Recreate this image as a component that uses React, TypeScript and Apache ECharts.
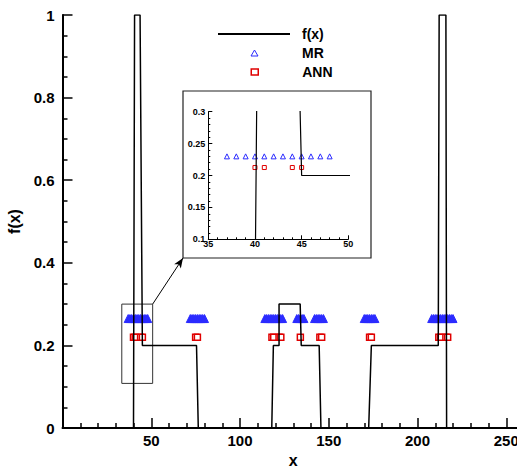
import React, { useEffect, useRef } from 'react';
import * as echarts from 'echarts';

// f(x) polyline (x, y)
const fxX = [0, 40, 40.6, 43.7, 45, 75.5, 76.5, 117.9, 118.8, 122, 122, 133.9, 134.5, 144.6, 145.6, 172.5, 174, 211.7, 212.2, 216, 216.4, 260];
const fxY = [0, 0, 1, 1, 0.2, 0.2, 0, 0, 0.2, 0.2, 0.3, 0.3, 0.2, 0.2, 0, 0, 0.2, 0.2, 1, 1, 0, 0];

// MR points (main plot)
const mrX = [
  37, 38, 39, 40, 41, 42, 43, 44, 45, 46, 47, 48,
  72, 73, 74, 75, 76, 77, 78, 79, 80,
  114, 115, 116, 117, 118, 119, 120, 121, 122, 123, 124,
  132, 133, 134, 135, 136,
  142, 143, 144, 145, 146, 147,
  170, 171, 172, 173, 174, 175, 176,
  208, 209, 210, 211, 212, 213, 214, 215, 216, 217, 218, 219, 220,
];
const MR_Y = 0.265;

// ANN points (main plot)
const annX = [40, 41, 44, 45, 75, 76, 118, 119, 122, 123, 134, 145, 146, 173, 174, 212, 213, 216, 217];
const ANN_Y = 0.22;

// Inset points
const insetMrX = [37, 38, 39, 40, 41, 42, 43, 44, 45, 46, 47, 48];
const INSET_MR_Y = 0.23;
const insetAnnX = [40, 41, 44, 45];
const INSET_ANN_Y = 0.2125;

// zoom window annotation (data coords)
const ZOOM_X = [33.4, 50.8];
const ZOOM_Y = [0.108, 0.3];

const FONT = "'Liberation Sans', Arial, Helvetica, sans-serif";
const BLUE = '#2b2bff';
const RED = '#e00000';

export default function App() {
  const ref = useRef<HTMLDivElement>(null);
  useEffect(() => {
    document.body.style.overflow = 'hidden';
    document.documentElement.style.overflow = 'hidden';
    const chart = echarts.init(ref.current!, null, { renderer: 'svg' });
    const fxData = fxX.map((x, i) => [x, fxY[i]]);
    const bigLabel = { color: '#000', fontSize: 15, fontWeight: 'bold', fontFamily: FONT };
    const smallLabel = { color: '#000', fontSize: 9, fontWeight: 'bold', fontFamily: FONT };
    const legendText = { color: '#000', fontSize: 14, fontWeight: 'bold', fontFamily: FONT };
    const option: any = {
      animation: false,
      backgroundColor: '#fff',
      grid: [
        { left: 62.5, top: 15, width: 461.5, height: 413, containLabel: false, outerBoundsMode: 'none' },
        { left: 208.3, top: 111.7, width: 140, height: 127.6, containLabel: false, outerBoundsMode: 'none' },
      ],
      legend: [
        {
          orient: 'vertical', left: 218, top: 27, padding: 0,
          itemWidth: 72, itemHeight: 14, selectedMode: false,
          textStyle: { ...legendText, padding: [0, 0, 0, 7] },
          data: [{ name: 'f(x)', icon: 'path://M0,6 L72,6 L72,8 L0,8 Z M0,0 L0.01,0 M0,14 L0.01,14', itemStyle: { color: '#000', borderWidth: 0 } }],
        },
        {
          orient: 'vertical', left: 250.5, top: 46, padding: 0,
          itemWidth: 7, itemHeight: 6, selectedMode: false,
          textStyle: { ...legendText, padding: [0, 0, 0, 39] },
          data: [{ name: 'MR', icon: 'triangle', itemStyle: { color: '#fff', borderColor: BLUE, borderWidth: 1, opacity: 1 } }],
        },
        {
          orient: 'vertical', left: 250.5, top: 65, padding: 0,
          itemWidth: 7, itemHeight: 6, selectedMode: false,
          textStyle: { ...legendText, padding: [0, 0, 0, 39] },
          data: [{ name: 'ANN', icon: 'rect', itemStyle: { color: '#fff', borderColor: RED, borderWidth: 1.5, opacity: 1 } }],
        },
      ],
      xAxis: [
        {
          gridIndex: 0, type: 'value', min: 0, max: 260, interval: 50,
          axisLine: { onZero: false, lineStyle: { color: '#000', width: 2 } },
          axisTick: { inside: true, length: 10, lineStyle: { color: '#000', width: 1.5 } },
          minorTick: { show: true, splitNumber: 5, length: 5, lineStyle: { color: '#000', width: 1.5 } },
          splitLine: { show: false },
          axisLabel: { ...bigLabel, margin: 5, formatter: (v: number) => (v !== 0 && v % 50 === 0 ? String(v) : '') },
          name: 'x', nameLocation: 'middle', nameGap: 16,
          nameTextStyle: { color: '#000', fontSize: 16, fontWeight: 'bold', fontFamily: FONT },
        },
        {
          gridIndex: 1, type: 'value', min: 35, max: 50, interval: 5,
          axisLine: { onZero: false, lineStyle: { color: '#000', width: 1 } },
          axisTick: { inside: true, length: 4, lineStyle: { color: '#000', width: 1 } },
          minorTick: { show: true, splitNumber: 5, length: 2, lineStyle: { color: '#000', width: 1 } },
          splitLine: { show: false },
          axisLabel: { ...smallLabel, margin: 0 },
        },
      ],
      yAxis: [
        {
          gridIndex: 0, type: 'value', min: 0, max: 1, interval: 0.2,
          axisLine: { onZero: false, lineStyle: { color: '#000', width: 2 } },
          axisTick: { inside: true, length: 10, lineStyle: { color: '#000', width: 1.5 } },
          minorTick: { show: true, splitNumber: 4, length: 5, lineStyle: { color: '#000', width: 1.5 } },
          splitLine: { show: false },
          axisLabel: { ...bigLabel, margin: 8 },
          name: 'f(x)', nameLocation: 'middle', nameGap: 37, nameRotate: 90,
          nameTextStyle: { color: '#000', fontSize: 16, fontWeight: 'bold', fontFamily: FONT },
        },
        {
          gridIndex: 1, type: 'value', min: 0.1, max: 0.3, interval: 0.05,
          axisLine: { onZero: false, lineStyle: { color: '#000', width: 1 } },
          axisTick: { inside: true, length: 4, lineStyle: { color: '#000', width: 1 } },
          minorTick: { show: true, splitNumber: 5, length: 2, lineStyle: { color: '#000', width: 1 } },
          splitLine: { show: false },
          axisLabel: { ...smallLabel, margin: 3 },
        },
      ],
      graphic: {
        elements: [
          {
            type: 'rect', z: 0,
            shape: { x: 183, y: 91, width: 188, height: 167 },
            style: { fill: 'rgba(0,0,0,0)', stroke: '#222', lineWidth: 1.2 },
            silent: true,
          },
        ],
      },
      series: [
        {
          name: 'MR', type: 'scatter', xAxisIndex: 0, yAxisIndex: 0,
          data: mrX.map((x) => [x, MR_Y]),
          symbol: 'triangle', symbolSize: 8,
          itemStyle: { color: BLUE, borderColor: BLUE, borderWidth: 1, opacity: 1 },
          z: 2,
        },
        {
          name: 'ANN', type: 'scatter', xAxisIndex: 0, yAxisIndex: 0,
          data: annX.map((x) => [x, ANN_Y]),
          symbol: 'rect', symbolSize: 6,
          itemStyle: { color: '#fff', borderColor: RED, borderWidth: 1.5, opacity: 1 },
          z: 2,
        },
        {
          name: 'f(x)', type: 'line', xAxisIndex: 0, yAxisIndex: 0,
          data: fxData, symbol: 'none', showSymbol: false,
          lineStyle: { color: '#000', width: 1.5 },
          itemStyle: { color: '#000' },
          z: 3,
          markArea: {
            silent: true,
            label: { show: false },
            itemStyle: { color: 'rgba(0,0,0,0)', borderColor: '#333', borderWidth: 1 },
            data: [[{ coord: [ZOOM_X[0], ZOOM_Y[0]] }, { coord: [ZOOM_X[1], ZOOM_Y[1]] }]],
          },
          markLine: {
            silent: true,
            symbol: ['none', 'arrow'],
            symbolSize: [6, 10],
            label: { show: false },
            lineStyle: { color: '#000', width: 1, type: 'solid' },
            data: [[{ coord: [ZOOM_X[1], ZOOM_Y[1]] }, { x: 183, y: 258 }]],
          },
        },
        {
          name: 'MR inset', type: 'scatter', xAxisIndex: 1, yAxisIndex: 1,
          data: insetMrX.map((x) => [x, INSET_MR_Y]),
          symbol: 'triangle', symbolSize: 5,
          itemStyle: { color: '#fff', borderColor: BLUE, borderWidth: 1, opacity: 1 },
          z: 4,
        },
        {
          name: 'ANN inset', type: 'scatter', xAxisIndex: 1, yAxisIndex: 1,
          data: insetAnnX.map((x) => [x, INSET_ANN_Y]),
          symbol: 'rect', symbolSize: 4,
          itemStyle: { color: '#fff', borderColor: RED, borderWidth: 1, opacity: 1 },
          z: 4,
        },
        {
          name: 'f(x) inset', type: 'line', xAxisIndex: 1, yAxisIndex: 1,
          data: fxData, symbol: 'none', showSymbol: false, clip: true,
          lineStyle: { color: '#000', width: 1.2 },
          z: 5,
        },
      ],
    };
    chart.setOption(option);
    return () => chart.dispose();
  }, []);
  return (
    <div
      ref={ref}
      style={{ position: 'fixed', left: 0, top: 0, width: 540, height: 466 }}
    />
  );
}
